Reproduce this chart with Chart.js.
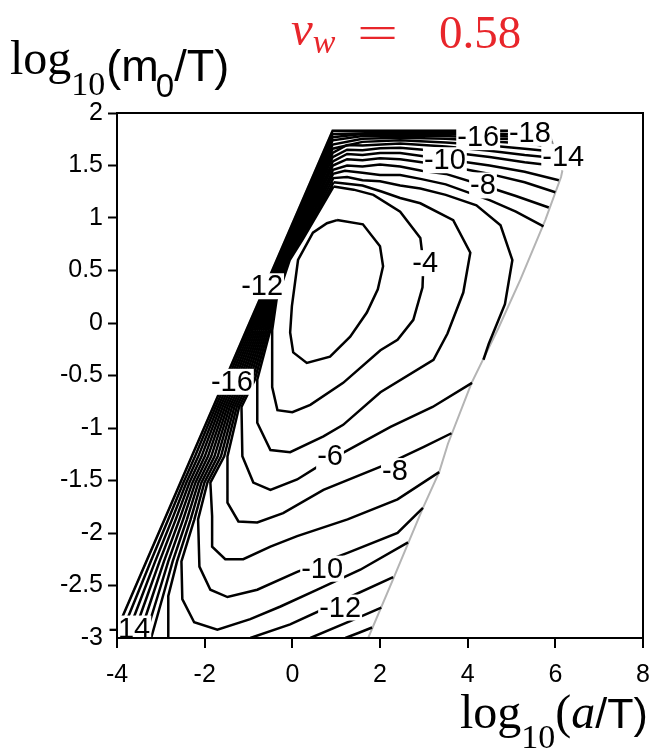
<!DOCTYPE html>
<html><head><meta charset="utf-8">
<script src="https://cdn.jsdelivr.net/npm/chart.js@4.4.0/dist/chart.umd.min.js"></script>
<style>html,body{margin:0;padding:0;background:#fff}canvas{display:block}</style>
</head><body>
<canvas id="c" width="653" height="755"></canvas>
<script>
'use strict';
const xTicks = [-4, -2, 0, 2, 4, 6, 8];
const yTicks = [2, 1.5, 1, 0.5, 0, -0.5, -1, -1.5, -2, -2.5, -3];

// contour lines as [log10(a/T), log10(m0/T)]
const lv3 = [[1.02,0.98],[1.61,0.94],[2.0,0.73],[2.07,0.54],[1.95,0.32],[1.70,0.10],[1.32,-0.13],[0.86,-0.32],[0.33,-0.38],[0.02,-0.28],[-0.05,-0.09],[-0.01,0.16],[0.13,0.60],[0.47,0.86],[0.79,0.95],[1.02,0.98]];
const lv4 = [[0.94,1.30],[1.4,1.27],[1.85,1.22],[2.46,1.06],[2.92,0.81],[2.99,0.57],[2.97,0.34],[2.76,0.03],[2.40,-0.16],[2.01,-0.26],[1.16,-0.57],[0.41,-0.78],[0.0,-0.85],[-0.34,-0.83],[-0.46,-0.61],[-0.46,-0.07],[-0.36,0.22],[-0.06,0.6],[0.24,0.8],[0.66,1.1],[0.94,1.30]];
const lv5 = [[0.94,1.34],[1.6,1.31],[2.05,1.25],[2.46,1.19],[2.92,1.14],[3.67,0.98],[4.06,0.67],[3.90,0.29],[3.54,-0.10],[3.22,-0.35],[2.01,-0.66],[1.16,-0.97],[0.71,-1.08],[-0.05,-1.23],[-0.50,-1.21],[-0.80,-0.95],[-0.80,-0.54],[-0.503,-0.07],[-0.388,0.22],[-0.081,0.6],[0.212,0.8],[0.625,1.1],[0.94,1.34]];
const lv6 = [[4.36,-0.35],[4.48,-0.20],[4.85,0.18],[5.02,0.60],[4.75,0.93],[4.2,1.12],[3.5,1.22],[2.92,1.28],[2.46,1.31],[2.0,1.35],[1.6,1.36],[1.25,1.39],[0.935,1.38],[0.589,1.1],[0.184,0.8],[-0.102,0.6],[-0.415,0.22],[-0.545,-0.07],[-0.857,-0.54],[-1.16,-0.80],[-1.14,-1.27],[-0.89,-1.52],[-0.50,-1.59],[0.11,-1.49],[0.57,-1.37],[2.24,-0.99],[3.2,-0.80],[4.10,-0.57]];
const lv7 = [[5.73,0.92],[5.1,1.06],[4.5,1.17],[3.5,1.32],[2.95,1.37],[2.46,1.41],[2.0,1.41],[1.6,1.43],[1.2,1.45],[0.93,1.42],[0.554,1.1],[0.157,0.8],[-0.123,0.6],[-0.443,0.22],[-0.587,-0.07],[-0.913,-0.54],[-1.214,-0.80],[-1.48,-1.27],[-1.48,-1.71],[-1.23,-1.89],[-0.80,-1.90],[-0.21,-1.81],[0.71,-1.59],[2.24,-1.33],[3.0,-1.18],[3.63,-1.05]];
const lv8 = [[5.85,1.10],[5.1,1.21],[4.36,1.31],[3.5,1.42],[2.95,1.45],[2.46,1.49],[2.0,1.51],[1.6,1.49],[1.25,1.50],[0.93,1.46],[0.518,1.1],[0.129,0.8],[-0.144,0.6],[-0.471,0.22],[-0.629,-0.07],[-0.970,-0.54],[-1.268,-0.80],[-1.554,-1.27],[-1.87,-1.52],[-1.83,-1.84],[-1.83,-2.13],[-1.53,-2.25],[-1.12,-2.25],[-0.50,-2.13],[0.11,-2.03],[1.26,-1.87],[2.40,-1.68],[3.35,-1.42]];
const lv9 = [[6.0,1.245],[5.3,1.34],[4.5,1.42],[3.5,1.50],[2.95,1.53],[2.46,1.56],[2.0,1.57],[1.6,1.55],[1.25,1.56],[0.925,1.50],[0.483,1.1],[0.101,0.8],[-0.165,0.6],[-0.499,0.22],[-0.671,-0.07],[-1.027,-0.54],[-1.322,-0.80],[-1.628,-1.27],[-1.938,-1.52],[-2.15,-1.87],[-2.12,-2.32],[-1.87,-2.54],[-1.48,-2.61],[-0.80,-2.54],[0.11,-2.37],[1.26,-2.19],[2.40,-2.00],[2.98,-1.76]];
const lv10 = [[6.08,1.36],[5.3,1.44],[4.5,1.50],[3.5,1.56],[2.95,1.59],[2.46,1.62],[2.0,1.62],[1.6,1.60],[1.25,1.61],[0.925,1.54],[0.447,1.1],[0.074,0.8],[-0.186,0.6],[-0.527,0.22],[-0.713,-0.07],[-1.083,-0.54],[-1.376,-0.80],[-1.702,-1.27],[-2.007,-1.52],[-2.235,-1.87],[-2.53,-2.27],[-2.51,-2.63],[-2.24,-2.85],[-1.71,-2.92],[-0.96,-2.82],[-0.27,-2.70],[0.57,-2.54],[1.55,-2.35],[2.64,-2.09]];
const lv11 = [[6.13,1.49],[5.3,1.53],[4.5,1.58],[3.5,1.63],[2.46,1.67],[2.0,1.665],[1.6,1.645],[1.25,1.65],[0.92,1.58],[0.412,1.1],[0.046,0.8],[-0.207,0.6],[-0.554,0.22],[-0.755,-0.07],[-1.140,-0.54],[-1.429,-0.80],[-1.776,-1.27],[-2.075,-1.52],[-2.320,-1.87],[-2.630,-2.27],[-2.83,-2.60],[-2.83,-3.0]];
const lv11b = [[-0.96,-3.0],[-0.05,-2.87],[1.10,-2.65],[2.30,-2.42]];
const lv12 = [[6.05,1.57],[5.3,1.60],[4.5,1.64],[3.5,1.68],[2.46,1.71],[1.6,1.69],[1.25,1.695],[0.92,1.62],[0.376,1.1],[0.018,0.8],[-0.228,0.6],[-0.582,0.22],[-0.797,-0.07],[-1.196,-0.54],[-1.483,-0.80],[-1.850,-1.27],[-2.143,-1.52],[-2.405,-1.87],[-2.730,-2.27],[-2.951,-2.60],[-3.221,-3.0]];
const lv12b = [[0.41,-3.0],[1.32,-2.84],[2.03,-2.71]];
const lv13 = [[6.0,1.63],[5.3,1.66],[4.5,1.69],[3.5,1.72],[2.46,1.74],[1.6,1.725],[0.92,1.66],[0.341,1.1],[-0.010,0.8],[-0.250,0.6],[-0.610,0.22],[-0.840,-0.07],[-1.253,-0.54],[-1.537,-0.80],[-1.924,-1.27],[-2.211,-1.52],[-2.490,-1.87],[-2.830,-2.27],[-3.071,-2.60],[-3.365,-3.0]];
const lv13b = [[1.21,-3.0],[1.52,-2.95],[1.82,-2.90]];
const lv14 = [[5.96,1.68],[5.3,1.71],[4.5,1.73],[3.5,1.755],[2.46,1.765],[1.6,1.755],[0.92,1.70],[0.305,1.1],[-0.037,0.8],[-0.271,0.6],[-0.638,0.22],[-0.882,-0.07],[-1.310,-0.54],[-1.591,-0.80],[-1.997,-1.27],[-2.279,-1.52],[-2.574,-1.87],[-2.929,-2.27],[-3.191,-2.60],[-3.509,-3.0]];
const lv15 = [[5.93,1.72],[5.3,1.745],[4.5,1.76],[3.5,1.78],[2.46,1.785],[1.6,1.78],[0.92,1.74],[0.270,1.1],[-0.065,0.8],[-0.292,0.6],[-0.666,0.22],[-0.924,-0.07],[-1.366,-0.54],[-1.645,-0.80],[-2.071,-1.27],[-2.347,-1.52],[-2.659,-1.87],[-3.029,-2.27],[-3.311,-2.60],[-3.653,-3.0]];
const lv16 = [[5.90,1.755],[5.3,1.77],[4.5,1.785],[3.5,1.80],[2.46,1.80],[1.6,1.80],[0.92,1.77],[0.234,1.1],[-0.093,0.8],[-0.313,0.6],[-0.693,0.22],[-0.966,-0.07],[-1.423,-0.54],[-1.698,-0.80],[-2.145,-1.27],[-2.416,-1.52],[-2.744,-1.87],[-3.129,-2.27],[-3.431,-2.60],[-3.797,-3.0]];
const lv17 = [[5.87,1.79],[4.5,1.805],[2.46,1.815],[0.92,1.80],[0.199,1.1],[-0.120,0.8],[-0.334,0.6],[-0.721,0.22],[-1.008,-0.07],[-1.479,-0.54],[-1.752,-0.80],[-2.219,-1.27],[-2.484,-1.52],[-2.829,-1.87],[-3.229,-2.27],[-3.551,-2.60],[-3.941,-3.0]];
const lv18 = [[5.84,1.83],[0.919,1.83],[0.163,1.1],[-0.148,0.8],[-0.355,0.6],[-0.749,0.22],[-1.050,-0.07],[-1.536,-0.54],[-1.806,-0.80],[-2.293,-1.27],[-2.552,-1.52],[-2.914,-1.87],[-3.329,-2.27],[-3.671,-2.60],[-4.085,-3.0]];

// edge of the computed region (grey)
const edgeLeft = [[-4.0,-2.92],[0.914,1.83]];
const edgeTop = [[0.914,1.83],[5.84,1.83],[6.16,1.45]];
const edgeRight = [[6.16,1.45],[6.13,1.39],[5.77,0.98],[5.20,0.41],[4.70,-0.05],[4.09,-0.57],[3.55,-1.15],[3.35,-1.42],[2.97,-1.77],[2.30,-2.44],[1.73,-3.0]];

const contourLines = [lv3, lv4, lv5, lv6, lv7, lv8, lv9, lv10, lv11, lv11b, lv12, lv12b, lv13, lv13b, lv14, lv15, lv16, lv17, lv18];
const contourLevels = [-3, -4, -5, -6, -7, -8, -9, -10, -11, -11, -12, -12, -13, -13, -14, -15, -16, -17, -18];

const labelText = ['-4', '-6', '-8', '-10', '-12', '-14', '-16', '-12', '-16', '-10', '-8', '-18', '-14'];
const labelX = [3.03, 0.86, 2.34, 0.68, 1.09, -3.72, -1.38, -0.69, 4.24, 3.48, 4.35, 5.42, 6.18];
const labelY = [0.57, -1.27, -1.41, -2.34, -2.71, -2.91, -0.56, 0.35, 1.77, 1.55, 1.31, 1.81, 1.58];

const toXY = pts => pts.map(p => ({x: p[0], y: p[1]}));

const datasets = [];
contourLines.forEach((pts, i) => {
	datasets.push({
		label: String(contourLevels[i]),
		data: toXY(pts),
		showLine: true,
		borderColor: '#000',
		borderWidth: 2.5,
		pointRadius: 0,
		tension: 0,
		order: 0
	});
});
[edgeLeft, edgeTop, edgeRight].forEach(pts => {
	datasets.push({
		data: toXY(pts),
		showLine: true,
		borderColor: '#b4b4b4',
		borderWidth: 2,
		pointRadius: 0,
		order: 1
	});
});

const serif = '"Liberation Serif", "Times New Roman", serif';
const sans = '"Liberation Sans", Arial, sans-serif';

const decor = {
	id: 'decor',
	afterDatasetsDraw(chart) {
		const ctx = chart.ctx, sx = chart.scales.x, sy = chart.scales.y;
		ctx.save();
		ctx.font = '29px ' + sans;
		ctx.textAlign = 'center';
		ctx.textBaseline = 'middle';
		labelText.forEach((t, i) => {
			const px = sx.getPixelForValue(labelX[i]);
			const py = sy.getPixelForValue(labelY[i]);
			const w = ctx.measureText(t).width;
			ctx.fillStyle = '#fff';
			ctx.fillRect(px - w / 2 - 1, py - 13, w + 2, 26);
			ctx.fillStyle = '#000';
			ctx.fillText(t, px, py + 1);
		});
		ctx.restore();
	},
	afterDraw(chart) {
		const ctx = chart.ctx, a = chart.chartArea, sx = chart.scales.x;
		ctx.save();
		ctx.strokeStyle = '#000';
		ctx.lineWidth = 2;
		ctx.strokeRect(a.left, a.top, a.right - a.left, a.bottom - a.top);
		// short outward tick marks on the x axis
		ctx.beginPath();
		xTicks.forEach(v => {
			const px = Math.round(sx.getPixelForValue(v));
			ctx.moveTo(px, a.bottom);
			ctx.lineTo(px, a.bottom + 10);
		});
		ctx.stroke();

		ctx.textAlign = 'left';
		ctx.textBaseline = 'alphabetic';
		ctx.fillStyle = '#000';
		const put = (txt, font, x, y) => {
			ctx.font = font;
			ctx.fillText(txt, x, y);
			return x + ctx.measureText(txt).width;
		};

		// y axis title
		let x = put('log', '48px ' + serif, 10, 74);
		x = put('10', '34px ' + serif, x, 95);
		x = put('(m', '45px ' + sans, x + 1, 81);
		x = put('0', '33px ' + sans, x - 3, 97);
		put('/T)', '45px ' + sans, x, 81);

		// x axis title
		x = put('log', '48px ' + serif, 460, 728);
		x = put('10', '34px ' + serif, x, 748);
		x = put('(', '48px ' + serif, x, 728);
		x = put('a', 'italic 48px ' + serif, x, 728);
		put('/T)', '43px ' + sans, x, 728);

		// red title
		ctx.fillStyle = '#e8262b';
		x = put('v', 'italic 49px ' + serif, 291, 45);
		put('w', 'italic 34px ' + serif, x, 53);
		ctx.save();
		ctx.translate(357, 48);
		ctx.scale(1.55, 1);
		put('=', '47px ' + serif, 0, 0);
		ctx.restore();
		put('0.58', '47px ' + serif, 439, 48);
		ctx.restore();
	}
};

new Chart(document.getElementById('c'), {
	type: 'scatter',
	data: {datasets: datasets},
	options: {
		responsive: false,
		animation: false,
		devicePixelRatio: 1,
		events: [],
		layout: {padding: {top: 113, right: 10, left: 0, bottom: 0}},
		plugins: {legend: {display: false}, tooltip: {enabled: false}},
		scales: {
			x: {
				type: 'linear', min: -4, max: 8,
				afterBuildTicks: s => { s.ticks = xTicks.map(v => ({value: v})); },
				afterFit: s => { s.height = 117; },
				ticks: {color: '#000', padding: 3, font: {family: '"Liberation Sans", Arial', size: 25}, callback: v => String(v), maxRotation: 0},
				grid: {drawOnChartArea: false, drawTicks: true, tickLength: 19, tickWidth: 2, tickColor: 'rgba(0,0,0,0)'},
				border: {display: true, color: '#000', width: 2}
			},
			y: {
				type: 'linear', min: -3, max: 2,
				afterBuildTicks: s => { s.ticks = yTicks.map(v => ({value: v})); },
				afterFit: s => { s.width = 117; },
				ticks: {color: '#000', padding: 5, font: {family: '"Liberation Sans", Arial', size: 25}, callback: v => String(v)},
				grid: {drawOnChartArea: false, drawTicks: true, tickLength: 9, tickWidth: 2, tickColor: '#000'},
				border: {display: true, color: '#000', width: 2}
			}
		}
	},
	plugins: [decor]
});
</script>
</body></html>
